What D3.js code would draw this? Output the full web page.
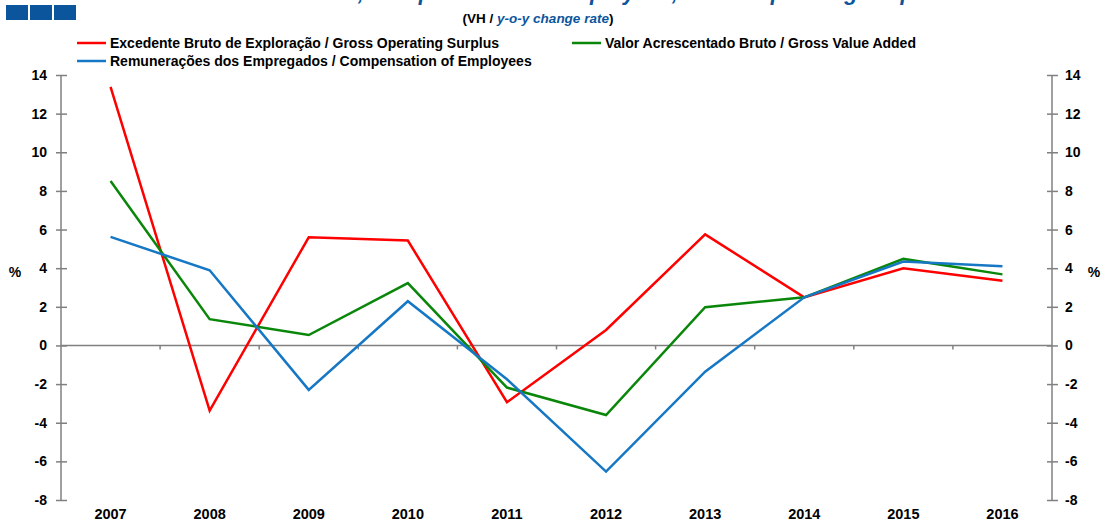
<!DOCTYPE html>
<html>
<head>
<meta charset="utf-8">
<script src="https://cdn.jsdelivr.net/npm/d3@7"></script>
<style>
html, body { margin: 0; padding: 0; background: #fff; }
svg { display: block; font-family: "Liberation Sans", Arial, sans-serif; }
</style>
</head>
<body>
<svg id="chart" width="1102" height="521"></svg>
<script>
const years = ["2007","2008","2009","2010","2011","2012","2013","2014","2015","2016"];
const gosValues = [13.38, -3.37, 5.60, 5.43, -2.94, 0.80, 5.75, 2.49, 4.00, 3.35];
const gvaValues = [8.51, 1.36, 0.54, 3.23, -2.18, -3.60, 1.98, 2.49, 4.48, 3.68];
const coeValues = [5.62, 3.89, -2.30, 2.29, -1.75, -6.53, -1.36, 2.49, 4.34, 4.10];
const yTicks = [-8, -6, -4, -2, 0, 2, 4, 6, 8, 10, 12, 14];
const seriesNames = [
  "Excedente Bruto de Exploração / Gross Operating Surplus",
  "Valor Acrescentado Bruto / Gross Value Added",
  "Remunerações dos Empregados / Compensation of Employees"
];
const seriesColors = ["#ff0000", "#0a870a", "#1677c4"];
const titleText = "Gross Value Added, Compensation of Employees, Gross Operating Surplus";

const series = [
  { name: seriesNames[0], values: gosValues, color: seriesColors[0] },
  { name: seriesNames[1], values: gvaValues, color: seriesColors[1] },
  { name: seriesNames[2], values: coeValues, color: seriesColors[2] }
];

const svg = d3.select("#chart");
const mLeft = 61, mRight = 1052, mTop = 75, mBottom = 500;
const axisColor = "#808080";
const fontFam = "Liberation Sans, Arial, sans-serif";

const x = d3.scaleBand().domain(years).range([mLeft, mRight]).padding(0);
const y = d3.scaleLinear().domain([-8, 14]).range([mBottom, mTop]);

// Logo squares
svg.selectAll("rect.logo").data([0, 1, 2]).enter().append("rect")
  .attr("x", d => 6 + d * 24).attr("y", 5).attr("width", 22).attr("height", 15)
  .attr("fill", "#0b559c");

// Title (cut off by the top edge, as in the reference)
svg.append("text").attr("x", 551).attr("y", -0.5).attr("text-anchor", "middle")
  .attr("font-size", 22).attr("font-weight", "bold").attr("font-style", "italic")
  .attr("fill", "#0b559c").text(titleText);

// Subtitle
const sub = svg.append("text").attr("x", 538).attr("y", 23).attr("text-anchor", "middle")
  .attr("font-size", 13.5).attr("font-weight", "bold").attr("fill", "#000");
sub.append("tspan").text("(VH / ");
sub.append("tspan").attr("font-style", "italic").attr("fill", "#0b559c").text("y-o-y change rate");
sub.append("tspan").text(")");

// Legend
const legendPos = [
  { x: 77, y: 43 }, { x: 572, y: 43 }, { x: 77, y: 61 }
];
series.forEach((s, i) => {
  const p = legendPos[i];
  svg.append("line").attr("x1", p.x).attr("x2", p.x + 29).attr("y1", p.y).attr("y2", p.y)
    .attr("stroke", s.color).attr("stroke-width", 2.5);
  svg.append("text").attr("x", p.x + 33).attr("y", p.y + 5)
    .attr("font-size", 14).attr("font-weight", "bold").attr("fill", "#000").text(s.name);
});

// Left axis
const fmt = d => String(d);
const yAxisL = d3.axisLeft(y).tickValues(yTicks).tickSize(0).tickPadding(14).tickFormat(fmt);
const gL = svg.append("g").attr("transform", `translate(${mLeft},0)`).call(yAxisL);
// Right axis
const yAxisR = d3.axisRight(y).tickValues(yTicks).tickSize(0).tickPadding(13).tickFormat(fmt);
const gR = svg.append("g").attr("transform", `translate(${mRight},0)`).call(yAxisR);
[gL, gR].forEach(g => {
  g.select(".domain").attr("stroke", axisColor).attr("stroke-width", 1.5);
  g.selectAll(".tick text").attr("font-size", 14).attr("font-weight", "bold")
    .attr("fill", "#000").attr("font-family", fontFam);
  g.selectAll(".tick").append("line").attr("x1", -5).attr("x2", 6)
    .attr("stroke", axisColor).attr("stroke-width", 1.5);
});
gL.select(".domain").attr("d", `M0,${mBottom}V${mTop}`);
gR.select(".domain").attr("d", `M0,${mBottom}V${mTop}`);

// Zero line with category boundary ticks
const xAxis = d3.axisBottom(x).tickSize(0).tickFormat("");
const gX = svg.append("g").attr("transform", `translate(0,${y(0)})`).call(xAxis);
gX.select(".domain").attr("d", `M${mLeft},0H${mRight}`).attr("stroke", axisColor).attr("stroke-width", 1.5);
gX.selectAll(".tick").remove();
gX.selectAll("line.bt").data(years.slice(1)).enter().append("line").attr("class", "bt")
  .attr("x1", d => x(d)).attr("x2", d => x(d)).attr("y1", 0).attr("y2", 4)
  .attr("stroke", axisColor).attr("stroke-width", 1.5);

// Year labels
const xLab = d3.axisBottom(x).tickSize(0).tickPadding(0);
const gXL = svg.append("g").attr("transform", `translate(0,${mBottom + 9})`).call(xLab);
gXL.select(".domain").remove();
gXL.selectAll(".tick text").attr("font-size", 14.5).attr("font-weight", "bold")
  .attr("fill", "#000").attr("font-family", fontFam);

// % labels
svg.append("text").attr("x", 15).attr("y", 277).attr("text-anchor", "middle")
  .attr("font-size", 14).attr("font-weight", "bold").text("%");
svg.append("text").attr("x", 1094).attr("y", 277).attr("text-anchor", "middle")
  .attr("font-size", 14).attr("font-weight", "bold").text("%");

// Lines
const line = d3.line().x((d, i) => x(years[i]) + x.bandwidth() / 2).y(d => y(d));
series.forEach(s => {
  svg.append("path").datum(s.values).attr("d", line).attr("fill", "none")
    .attr("stroke", s.color).attr("stroke-width", 2.5).attr("stroke-linejoin", "miter");
});
</script>
</body>
</html>
